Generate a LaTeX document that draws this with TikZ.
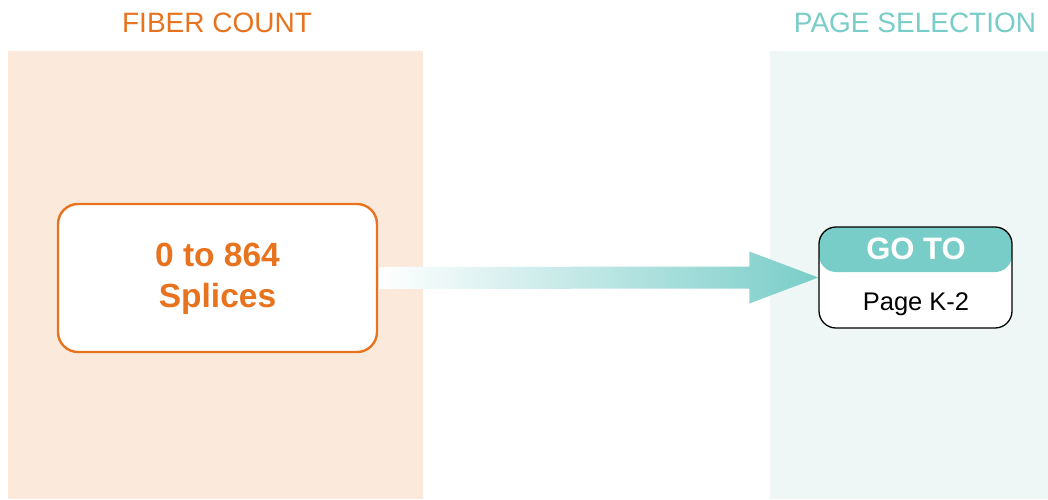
\documentclass[tikz,border=0pt]{standalone}
\usepackage{fontspec}
\setmainfont{Liberation Sans}
\usetikzlibrary{calc}
\definecolor{orng}{HTML}{E8731F}
\definecolor{orngbg}{HTML}{FBEADC}
\definecolor{teal1}{HTML}{79CDC8}
\definecolor{tealbg}{HTML}{EEF7F5}
\tikzset{
  title/.style={inner sep=0pt, anchor=base, font=\fontsize{28}{30}\selectfont},
  countbox/.style={draw=orng, line width=2.4pt, fill=white, rounded corners=20pt,
    minimum width=319pt, minimum height=148pt, inner sep=0pt},
  gotobox/.style={draw=black, line width=1.3pt, fill=white, rounded corners=17pt,
    minimum width=193pt, minimum height=101pt, inner sep=0pt,
    path picture={\fill[teal1] (path picture bounding box.north west) rectangle ($(path picture bounding box.north east)+(0,-45pt)$);}},
  lbl/.style={inner sep=0pt, anchor=base}
}
\begin{document}
\begin{tikzpicture}[x=1pt,y=-1pt]
\useasboundingbox (0,0) rectangle (1048,499);
\fill[white] (0,0) rectangle (1048,499);
\fill[orngbg] (8,51) rectangle (423,499);
\fill[tealbg] (770,51) rectangle (1048,499);
\node[title, text=orng] (t1) at (217,32) {FIBER COUNT};
\node[title, text=teal1] (t2) at (915,32) {PAGE SELECTION};
\node[countbox] (a) at (217.5,278) {};
\node[lbl, text=orng, font=\bfseries\fontsize{33.5}{35}\selectfont] (a1) at (217.5,266) {0 to 864};
\node[lbl, text=orng, font=\bfseries\fontsize{33.5}{35}\selectfont] (a2) at (217.5,307) {Splices};
\node[gotobox] (b) at (915.5,277.5) {};
\node[lbl, text=white, font=\bfseries\fontsize{31}{33}\selectfont] (b1) at (916,259.5) {GO TO};
\node[lbl, text=black, font=\fontsize{25.5}{27}\selectfont] (b2) at (916,310.5) {Page K-2};
\shade[left color=white, right color=teal1]
  ($(a.east)+(1,-11)$) -- ($(b.west)+(-69,-11)$) -- ($(b.west)+(-69,-26)$) -- (b.west)
  -- ($(b.west)+(-69,26)$) -- ($(b.west)+(-69,11)$) -- ($(a.east)+(1,11)$) -- cycle;
\end{tikzpicture}
\end{document}
